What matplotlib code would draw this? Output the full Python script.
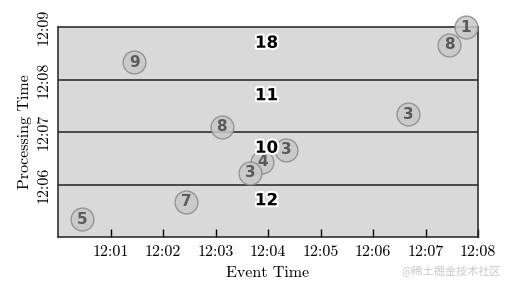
import matplotlib.pyplot as plt
import matplotlib.patheffects as pe

# minutes after 12:00
event_time = [7.77, 7.45, 1.45, 6.67, 3.12, 4.34, 3.89, 3.66, 2.44, 0.46]
proc_time = [9.00, 8.66, 8.33, 7.34, 7.10, 6.66, 6.43, 6.22, 5.67, 5.34]
values = [1, 8, 9, 3, 8, 3, 4, 3, 7, 5]

band_edges = [6, 7, 8]
band_centers = [8.7, 7.7, 6.7, 5.7]
band_sums = [18, 11, 10, 12]
band_x = 3.97

x_ticks = [1, 2, 3, 4, 5, 6, 7, 8]
x_labels = ["12:01", "12:02", "12:03", "12:04", "12:05", "12:06", "12:07", "12:08"]
y_ticks = [6, 7, 8, 9]
y_labels = ["12:06", "12:07", "12:08", "12:09"]

plt.rcParams["font.family"] = "cmr10"
plt.rcParams["axes.formatter.use_mathtext"] = True

fig = plt.figure(figsize=(5.08, 2.9), dpi=100)
ax = fig.add_axes([58 / 508, 53 / 290, 420 / 508, 210 / 290])
ax.set_facecolor("#d9d9d9")
ax.set_xlim(0, 8)
ax.set_ylim(5, 9)

for y in band_edges:
    ax.axhline(y, color="#222222", lw=1.1)

ax.scatter(event_time, proc_time, s=270, facecolor="#c8c8c8", edgecolor="#8a8a8a",
           linewidth=1, alpha=0.85, zorder=3, clip_on=False)
for x, y, v in zip(event_time, proc_time, values):
    ax.text(x, y, str(v), ha="center", va="center", fontsize=11, fontweight="bold",
            family="DejaVu Sans", color="#5a5a5a", zorder=4)

# per-band sums drawn on top of the circles
for t, s in zip(band_centers, band_sums):
    ax.text(band_x, t, str(s), ha="center", va="center", fontsize=12,
            fontweight="bold", family="DejaVu Sans", color="black", zorder=5,
            path_effects=[pe.withStroke(linewidth=3, foreground="white")])

ax.set_xticks(x_ticks)
ax.set_xticklabels(x_labels, fontsize=11.5)
ax.set_yticks(y_ticks)
ax.set_yticklabels(y_labels, fontsize=11.5, rotation=90, va="center")
ax.tick_params(axis="x", direction="in", length=6, width=1, pad=6)
ax.tick_params(axis="y", length=0, pad=5)
for sp in ax.spines.values():
    sp.set_color("#222222")
    sp.set_linewidth(1.1)

ax.set_xlabel("Event Time", fontsize=11.5, labelpad=5)
ax.set_ylabel("Processing Time", fontsize=11.5, labelpad=4)

fig.text(0.985, 0.045, "@稀土掘金技术社区", ha="right", va="bottom", fontsize=8,
         family=["Noto Sans CJK SC", "DejaVu Sans"], color="#c8c8c8")

fig.savefig("out.png", dpi=100)
